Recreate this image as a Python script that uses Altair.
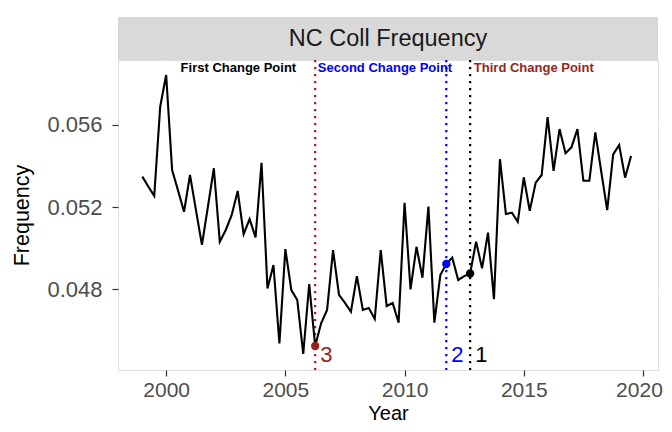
import altair as alt
import pandas as pd

# ---- data ----
years = [1999.0 + 0.25 * i for i in range(83)]
freq = [
    0.05348, 0.05300, 0.05254, 0.05689, 0.05844, 0.05380, 0.05280, 0.05177,
    0.05356, 0.05185, 0.05015, 0.05200, 0.05389, 0.05031, 0.05088, 0.05161,
    0.05278, 0.05068, 0.05141, 0.05052, 0.05416, 0.04803, 0.04917, 0.04535,
    0.04995, 0.04795, 0.04746, 0.04483, 0.04824, 0.04522, 0.04633, 0.04698,
    0.04990, 0.04771, 0.04732, 0.04689, 0.04863, 0.04698, 0.04707, 0.04654,
    0.04990, 0.04717, 0.04732, 0.04636, 0.05221, 0.04798, 0.05006, 0.04855,
    0.05202, 0.04636, 0.04868, 0.04922, 0.04953, 0.04844, 0.04863, 0.04876,
    0.05031, 0.04901, 0.05075, 0.04750, 0.05433, 0.05166, 0.05172, 0.05128,
    0.05345, 0.05182, 0.05319, 0.05356, 0.05638, 0.05376, 0.05580, 0.05462,
    0.05491, 0.05580, 0.05328, 0.05328, 0.05564, 0.05372, 0.05185, 0.05457,
    0.05502, 0.05343, 0.05449,
]

cp_years = [2012.75, 2011.75, 2006.25]
cp_labels = ["1", "2", "3"]
cp_colors = ["black", "blue", "#9A1F1F"]
cp_label_y = [0.04478, 0.04478, 0.04478]

note_text = ["First Change Point", "Second Change Point", "Third Change Point"]
note_x = [2003.03, 2009.18, 2015.42]
note_y = [0.05876, 0.05876, 0.05876]
note_colors = ["black", "blue", "#9A1F1F"]

x_major = [2000, 2005, 2010, 2015, 2020]
x_minor = [2002.5, 2007.5, 2012.5, 2017.5]
y_major = [0.048, 0.052, 0.056]
y_minor = [0.046, 0.050, 0.054, 0.058]

strip_title = "NC Coll Frequency"

W, H, STRIP = 540, 310, 43
FONT = "Liberation Sans"

# ---- tables ----
series = pd.DataFrame({"Year": years, "Frequency": freq})
cp_vals = [freq[years.index(y)] for y in cp_years]
cps = pd.DataFrame({"Year": cp_years, "Frequency": cp_vals, "label": cp_labels,
                    "color": cp_colors, "ly": cp_label_y})
notes = pd.DataFrame({"Year": note_x, "Frequency": note_y, "text": note_text,
                      "color": note_colors})

xs = alt.Scale(domain=[1997.98, 2020.63], nice=False, zero=False)
ys = alt.Scale(domain=[0.04405, 0.05917], nice=False, zero=False)

x_axis = alt.Axis(values=x_major, format="d", title="Year", grid=True,
                  gridColor="white", gridWidth=1.3, tickColor="#333333",
                  tickSize=6, tickWidth=1.2, labelFontSize=21,
                  labelColor="#4D4D4D", labelPadding=3,
                  labelOffset=alt.condition("datum.value == 2020", alt.value(-4), alt.value(0)),
                  titleFontSize=20, titleY=49, titleBaseline="alphabetic",
                  titleColor="black", titleFontWeight="normal", domain=False,
                  labelFont=FONT, titleFont=FONT)
y_axis = alt.Axis(values=y_major, format=".3f", title="Frequency", grid=True,
                  gridColor="white", gridWidth=1.3, tickColor="#333333",
                  tickSize=6, tickWidth=1.2, labelFontSize=22,
                  labelColor="#4D4D4D", labelPadding=10, titleFontSize=21.5,
                  titleColor="black", titleFontWeight="normal", domain=False,
                  titlePadding=13, labelFont=FONT, titleFont=FONT)

minor_x = alt.Chart(pd.DataFrame({"Year": x_minor})).mark_rule(
    color="white", strokeWidth=0.6).encode(x=alt.X("Year:Q", scale=xs, axis=x_axis))
minor_y = alt.Chart(pd.DataFrame({"Frequency": y_minor})).mark_rule(
    color="white", strokeWidth=0.6).encode(y=alt.Y("Frequency:Q", scale=ys, axis=y_axis))

vlines = alt.Chart(cps).mark_rule(strokeDash=[2.3, 4.7], strokeWidth=2.2).encode(
    x=alt.X("Year:Q", scale=xs),
    color=alt.Color("color:N", scale=None),
)

line = alt.Chart(series).mark_line(color="black", strokeWidth=2.1).encode(
    x=alt.X("Year:Q", scale=xs),
    y=alt.Y("Frequency:Q", scale=ys),
)

pts = alt.Chart(cps).mark_circle(size=70, opacity=1).encode(
    x=alt.X("Year:Q", scale=xs),
    y=alt.Y("Frequency:Q", scale=ys),
    color=alt.Color("color:N", scale=None),
)

cp_text = alt.Chart(cps).mark_text(align="left", baseline="middle", dx=5,
                                   fontSize=22, font=FONT).encode(
    x=alt.X("Year:Q", scale=xs),
    y=alt.Y("ly:Q", scale=ys),
    text="label:N",
    color=alt.Color("color:N", scale=None),
)

note_marks = alt.Chart(notes).mark_text(align="center", baseline="middle",
                                        fontSize=13, fontWeight="bold", font=FONT).encode(
    x=alt.X("Year:Q", scale=xs),
    y=alt.Y("Frequency:Q", scale=ys),
    text="text:N",
    color=alt.Color("color:N", scale=None),
)

strip_df = pd.DataFrame({"t": [strip_title]})
strip_rect = alt.Chart(strip_df).mark_rect(color="#D9D9D9").encode(
    x=alt.value(0), x2=alt.value(W), y=alt.value(-STRIP), y2=alt.value(0))
strip_text = alt.Chart(strip_df).mark_text(fontSize=23.5, color="#1A1A1A",
                                           font=FONT, baseline="middle").encode(
    x=alt.value(W / 2), y=alt.value(-STRIP / 2), text="t:N")

chart = alt.layer(
    minor_x, minor_y, vlines, line, pts, cp_text, note_marks, strip_rect, strip_text
).properties(
    width=W, height=H,
    autosize=alt.AutoSizeParams(type="none"),
    padding={"left": 110, "top": 52, "right": 6, "bottom": 54},
).configure_view(fill="#EBEBEB", strokeWidth=0).configure(font=FONT)

chart.save("out.html", embed_options={"renderer": "svg", "actions": False})
